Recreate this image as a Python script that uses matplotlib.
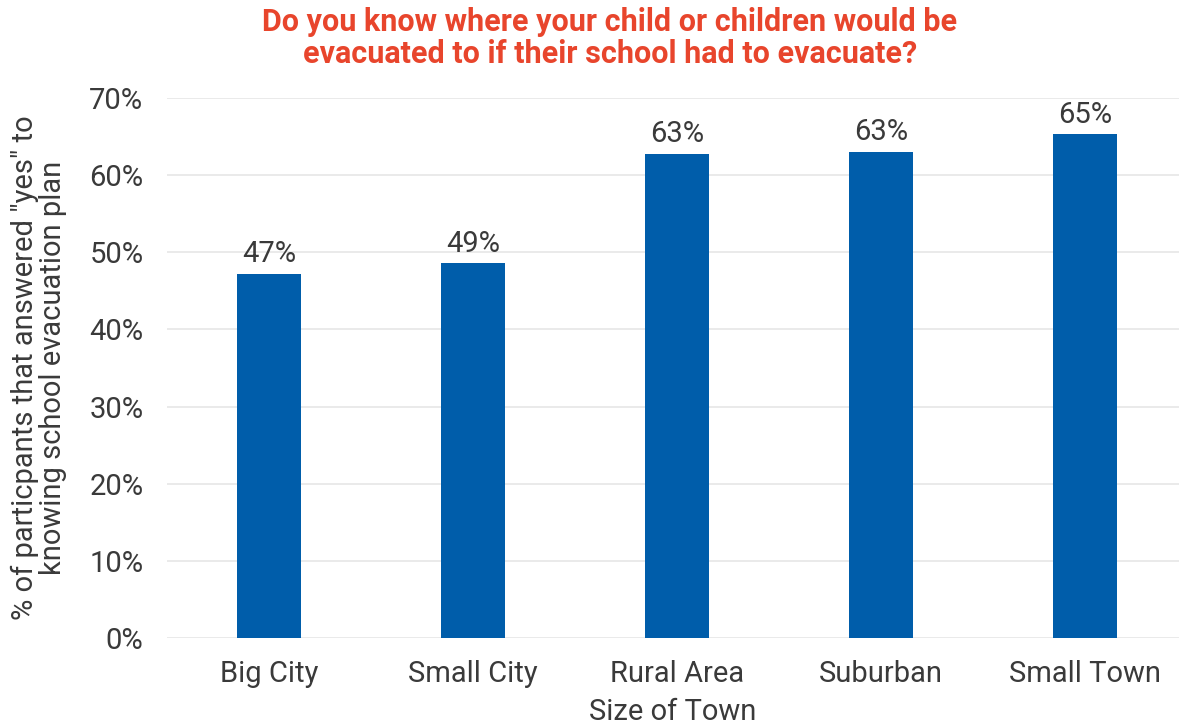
import matplotlib
matplotlib.use("Agg")
import matplotlib.pyplot as plt
from matplotlib.ticker import PercentFormatter

categories = ["Big City", "Small City", "Rural Area", "Suburban", "Small Town"]
values = [47.2, 48.6, 62.8, 63.0, 65.3]
labels = ["47%", "49%", "63%", "63%", "65%"]
yticks = [0, 10, 20, 30, 40, 50, 60, 70]

plt.rcParams["font.family"] = ["Roboto", "DejaVu Sans"]
text_color = "#3a3a3a"
bar_color = "#005DAA"

fig = plt.figure(figsize=(11.79, 7.25), dpi=100)
ax = fig.add_axes([167 / 1179, 1 - 638 / 725, 1012 / 1179, 540 / 725])

bars = ax.bar(range(len(categories)), values, width=0.315, color=bar_color, zorder=3)
for rect, lab in zip(bars, labels):
    ax.annotate(lab, (rect.get_x() + rect.get_width() / 2, rect.get_height()),
                xytext=(0, 4), textcoords="offset points", ha="center", va="bottom",
                fontsize=21, color=text_color)

ax.set_xlim(-0.5, 4.46)
ax.set_ylim(0, 70)
ax.set_yticks(yticks)
ax.yaxis.set_major_formatter(PercentFormatter(decimals=0))
ax.set_xticks(range(len(categories)))
ax.set_xticklabels(categories)
ax.tick_params(axis="both", length=0, labelsize=21, colors=text_color)
ax.tick_params(axis="x", pad=16)
ax.tick_params(axis="y", pad=17)
ax.grid(axis="y", color="#e6e6e6", linewidth=1.2, zorder=0)
for s in ax.spines.values():
    s.set_visible(False)

ax.set_xlabel("Size of Town", fontsize=21, color=text_color, labelpad=7)
ax.set_ylabel('% of particpants that answered "yes" to\nknowing school evacuation plan',
              fontsize=21, color=text_color, labelpad=16, linespacing=1.0)

fig.text(610 / 1179, 1 - 38 / 725,
         "Do you know where your child or children would be\nevacuated to if their school had to evacuate?",
         ha="center", va="center", fontsize=22, fontweight="bold", color="#E8452C",
         linespacing=1.1)

fig.savefig("out.png", dpi=100)
